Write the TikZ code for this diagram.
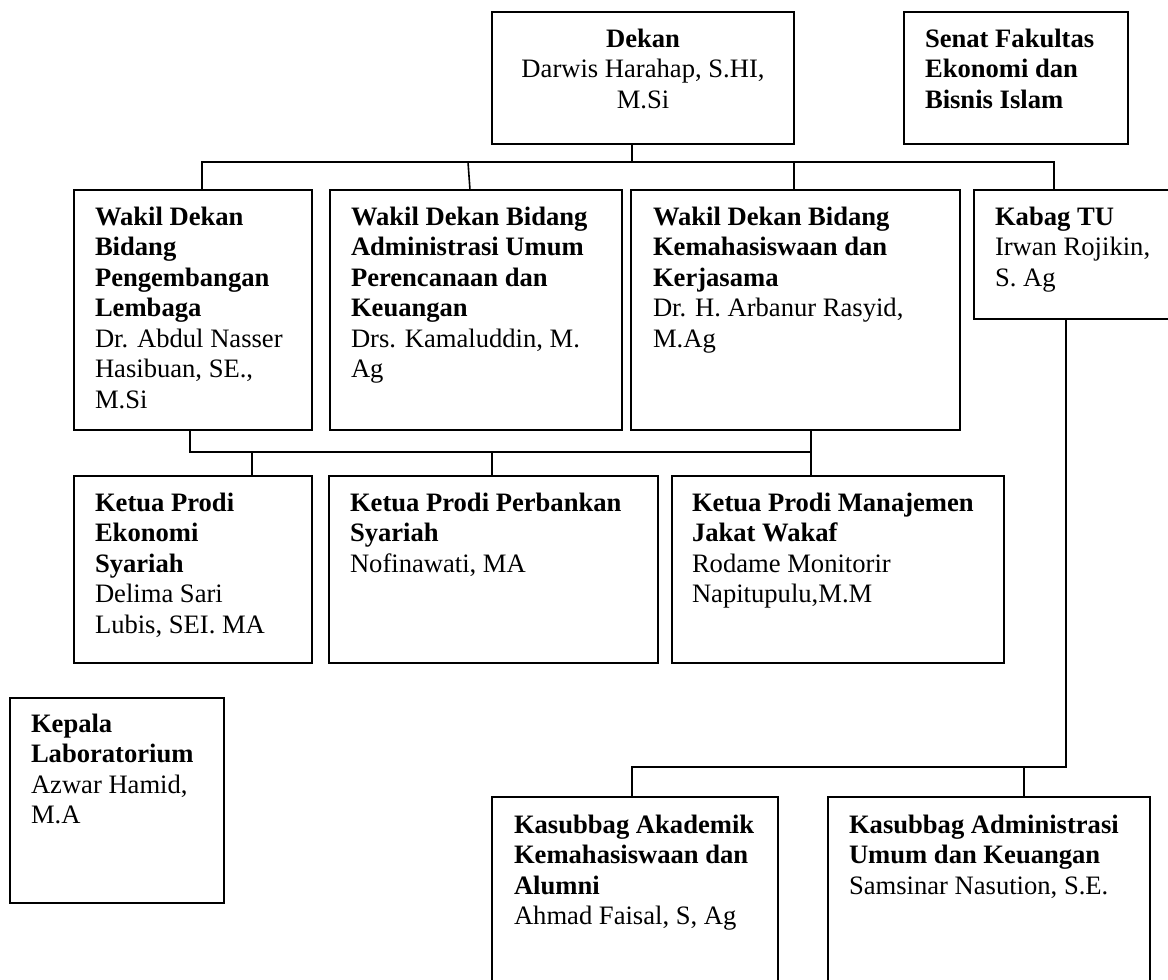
\documentclass[tikz,border=0pt]{standalone}
\usepackage{fontspec}
\setmainfont{Liberation Serif}
\usetikzlibrary{calc}
\begin{document}
\begin{tikzpicture}[x=1pt,y=-1pt,
  box/.style={draw, line width=1.6pt, rectangle, anchor=north west, inner sep=0pt, outer sep=0pt},
  txt/.style={anchor=north west, inner sep=0pt, outer sep=0pt, align=left, font=\fontsize{26.6}{30.5}\selectfont},
  ctxt/.style={txt, anchor=north, align=center},
  link/.style={line width=1.6pt}]
\useasboundingbox (0,0) rectangle (1168,980);
\fill[white] (0,0) rectangle (1168,980);
\clip (0,0) rectangle (1168,980);

% boxes
\node[box, minimum width=302pt, minimum height=132pt] (dekan) at (492,12) {};
\node[box, minimum width=224pt, minimum height=132pt] (senat) at (904,12) {};
\node[box, minimum width=238pt, minimum height=240pt] (wd1) at (74,190) {};
\node[box, minimum width=292pt, minimum height=240pt] (wd2) at (330,190) {};
\node[box, minimum width=329pt, minimum height=240pt] (wd3) at (631,190) {};
\node[box, minimum width=220pt, minimum height=129pt] (kabag) at (974,190) {};
\node[box, minimum width=238pt, minimum height=187pt] (kp1) at (74,476) {};
\node[box, minimum width=329pt, minimum height=187pt] (kp2) at (329,476) {};
\node[box, minimum width=332pt, minimum height=187pt] (kp3) at (672,476) {};
\node[box, minimum width=214pt, minimum height=205pt] (lab) at (10,698) {};
\node[box, minimum width=286pt, minimum height=220pt] (ks1) at (492,797) {};
\node[box, minimum width=322pt, minimum height=220pt] (ks2) at (828,797) {};

% texts
\node[ctxt] (dekant) at ($(dekan.north)+(0,13.65)$) {\textbf{\strut Dekan}\\Darwis Harahap, S.HI,\\M.Si};
\node[txt] (senatt) at ($(senat.north west)+(21,13.65)$) {\textbf{\strut Senat Fakultas}\\\textbf{Ekonomi dan}\\\textbf{Bisnis Islam}};
\node[txt] (wd1t) at ($(wd1.north west)+(21,13.65)$) {\textbf{\strut Wakil Dekan}\\\textbf{Bidang}\\\textbf{Pengembangan}\\\textbf{Lembaga}\\Dr. Abdul Nasser\\Hasibuan, SE.,\\M.Si};
\node[txt] (wd2t) at ($(wd2.north west)+(21,13.65)$) {\textbf{\strut Wakil Dekan Bidang}\\\textbf{Administrasi Umum}\\\textbf{Perencanaan dan}\\\textbf{Keuangan}\\Drs. Kamaluddin, M.\\Ag};
\node[txt] (wd3t) at ($(wd3.north west)+(22,13.65)$) {\textbf{\strut Wakil Dekan Bidang}\\\textbf{Kemahasiswaan dan}\\\textbf{Kerjasama}\\Dr. H. Arbanur Rasyid,\\M.Ag};
\node[txt] (kabagt) at ($(kabag.north west)+(21,13.65)$) {\textbf{\strut Kabag TU}\\Irwan Rojikin,\\S. Ag};
\node[txt] (kp1t) at ($(kp1.north west)+(21,13.65)$) {\textbf{\strut Ketua Prodi}\\\textbf{Ekonomi}\\\textbf{Syariah}\\Delima Sari\\Lubis, SEI. MA};
\node[txt] (kp2t) at ($(kp2.north west)+(21,13.65)$) {\textbf{\strut Ketua Prodi Perbankan}\\\textbf{Syariah}\\Nofinawati, MA};
\node[txt] (kp3t) at ($(kp3.north west)+(20,13.65)$) {\textbf{\strut Ketua Prodi Manajemen}\\\textbf{Jakat Wakaf}\\Rodame Monitorir\\Napitupulu,M.M};
\node[txt] (labt) at ($(lab.north west)+(21,12.65)$) {\textbf{\strut Kepala}\\\textbf{Laboratorium}\\Azwar Hamid,\\M.A};
\node[txt] (ks1t) at ($(ks1.north west)+(22,14.65)$) {\textbf{\strut Kasubbag Akademik}\\\textbf{Kemahasiswaan dan}\\\textbf{Alumni}\\Ahmad Faisal, S, Ag};
\node[txt] (ks2t) at ($(ks2.north west)+(21,14.65)$) {\textbf{\strut Kasubbag Administrasi}\\\textbf{Umum dan Keuangan}\\Samsinar Nasution, S.E.};

% junction coordinates
\coordinate (h1L) at (202,162);
\coordinate (h1R) at (1054,162);
\coordinate (h1D) at (632,162);
\coordinate (h1B) at (468,162);
\coordinate (w2top) at (470,190);
\coordinate (h1C) at (794,162);
\coordinate (h2L) at (190,452);
\coordinate (h2R) at (811,452);
\coordinate (d1) at (252,452);
\coordinate (d2) at (492,452);
\coordinate (k1) at (1066,767);
\coordinate (k2) at (632,767);
\coordinate (k3) at (1024,767);

% connectors
\draw[link] (dekan.south west -| h1D) -- (h1D);
\draw[link] (wd1.north west -| h1L) -- (h1L) -- (h1R) -- (kabag.north west -| h1R);
\draw[link] (h1B) -- (w2top);
\draw[link] (h1C) -- (wd3.north west -| h1C);
\draw[link] (wd1.south west -| h2L) -- (h2L) -- (h2R);
\draw[link] (wd3.south west -| h2R) -- (kp3.north west -| h2R);
\draw[link] (d1) -- (kp1.north west -| d1);
\draw[link] (d2) -- (kp2.north west -| d2);
\draw[link] (kabag.south west -| k1) -- (k1) -- (k2) -- (ks1.north west -| k2);
\draw[link] (k3) -- (ks2.north west -| k3);
\end{tikzpicture}
\end{document}
